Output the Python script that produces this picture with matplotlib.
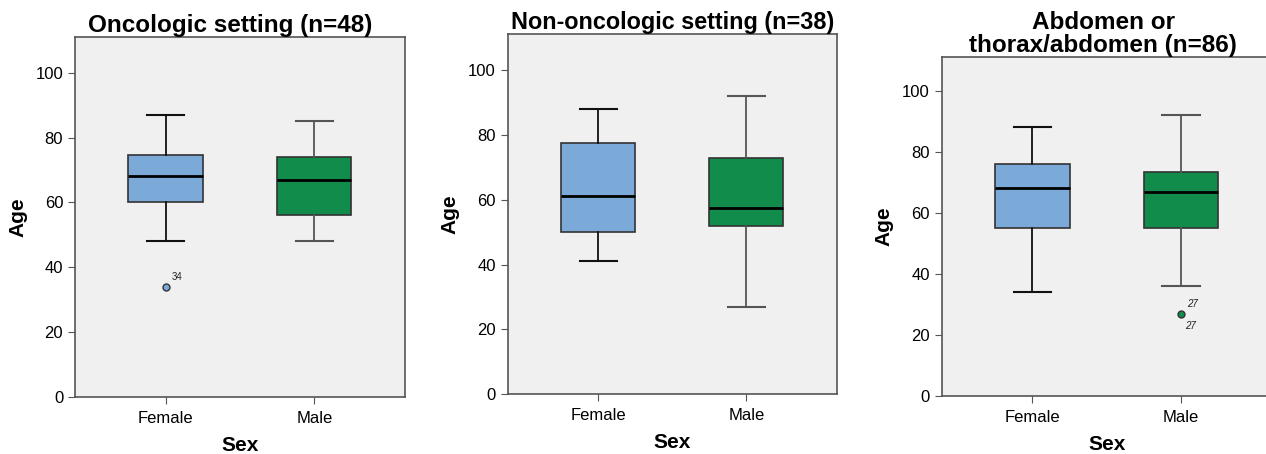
import matplotlib.pyplot as plt

# Datos (estadísticos de cada caja)
sexos = ["Female", "Male"]
titulos = ["Oncologic setting (n=48)",
           "Non-oncologic setting (n=38)",
           "Abdomen or\nthorax/abdomen (n=86)"]

# [whisker bajo, Q1, mediana, Q3, whisker alto]
onco_female = [48, 60, 68, 74.5, 87]
onco_male = [48, 56, 67, 74, 85]
nononco_female = [41, 50, 61, 77.5, 88]
nononco_male = [27, 52, 57.5, 73, 92]
abd_female = [34, 55, 68, 76, 88]
abd_male = [36, 55, 67, 73.5, 92]

# outliers: (panel, sexo, valor, etiquetas)
outliers = [(0, 0, 34, ["34"]), (2, 1, 27, ["27", "27"])]

paneles = [(onco_female, onco_male),
           (nononco_female, nononco_male),
           (abd_female, abd_male)]

colores = ["#7BAAD8", "#118C4A"]
color_whisker = ["#111111", "#555555"]

plt.rcParams['font.family'] = ['Liberation Sans', 'DejaVu Sans']

fig = plt.figure(figsize=(12.66, 4.54), dpi=100)
posiciones = [[0.0592, 0.1256, 0.2607, 0.793],
              [0.401, 0.1315, 0.2599, 0.793],
              [0.7438, 0.1278, 0.2607, 0.746]]
titulo_x = [0.47, 0.5, 0.49]

for p, (datos, pos) in enumerate(zip(paneles, posiciones)):
    ax = fig.add_axes(pos)
    ax.set_facecolor("#F0F0F0")
    stats = []
    for j, d in enumerate(datos):
        fl = [o[2] for o in outliers if o[0] == p and o[1] == j]
        stats.append({"whislo": d[0], "q1": d[1], "med": d[2], "q3": d[3],
                      "whishi": d[4], "fliers": fl, "label": sexos[j]})
    bp = ax.bxp(stats, positions=[1, 2], widths=0.5, patch_artist=True,
                showfliers=True)
    for j in range(2):
        bp["boxes"][j].set_facecolor(colores[j])
        bp["boxes"][j].set_edgecolor("#333333")
        bp["boxes"][j].set_linewidth(1.2)
        bp["medians"][j].set_color("black")
        bp["medians"][j].set_linewidth(2)
        for k in (2 * j, 2 * j + 1):
            bp["whiskers"][k].set_color(color_whisker[j])
            bp["whiskers"][k].set_linewidth(1.3)
            bp["caps"][k].set_color(color_whisker[j])
            bp["caps"][k].set_linewidth(1.5)
        bp["fliers"][j].set_marker("o")
        bp["fliers"][j].set_markerfacecolor(colores[j])
        bp["fliers"][j].set_markeredgecolor("#333333")
        bp["fliers"][j].set_markersize(5)

    # etiquetas de outliers
    for o in outliers:
        if o[0] != p:
            continue
        x = o[1] + 1
        ax.annotate(o[3][0], (x, o[2]), xytext=(4, 5), textcoords="offset points",
                    fontsize=7, color="#222222",
                    style="italic" if len(o[3]) > 1 else "normal")
        if len(o[3]) > 1:
            ax.annotate(o[3][1], (x, o[2]), xytext=(3, -11), textcoords="offset points",
                        fontsize=7, color="#222222", style="italic")

    ax.set_xlim(0.39, 2.61)
    ax.set_ylim(0, 111)
    ax.set_yticks([0, 20, 40, 60, 80, 100])
    ax.set_xticks([1, 2])
    ax.set_xticklabels(sexos)
    ax.tick_params(axis="both", direction="out", length=5, color="#555555",
                   labelsize=12)
    ax.tick_params(axis="x", pad=5)
    for s in ax.spines.values():
        s.set_color("#555555")
        s.set_linewidth(1.2)
    ax.set_xlabel("Sex", fontsize=15, fontweight="bold", labelpad=7)
    ax.set_ylabel("Age", fontsize=15, fontweight="bold", labelpad=6)
    ax.set_title(titulos[p], fontsize=17.5 if p != 1 else 16.8, fontweight="bold",
                 pad=3, linespacing=1.0, x=titulo_x[p])

fig.savefig("out.png", dpi=100)
